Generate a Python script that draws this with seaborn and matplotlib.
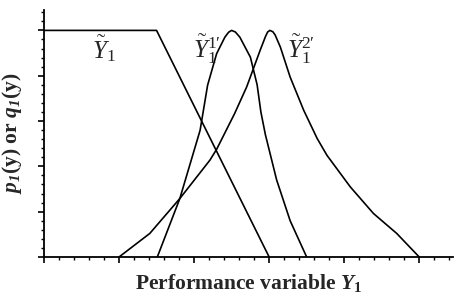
import matplotlib
matplotlib.use("Agg")
import matplotlib.pyplot as plt
import pandas as pd
import seaborn as sns
from matplotlib.ticker import MultipleLocator, NullFormatter

# trapezoid Y1
trap_x = [0.0, 1.5, 3.0]
trap_y = [1.0, 1.0, 0.0]

# Y1^1'
y1_x = [1.51, 1.81, 2.08, 2.18, 2.30, 2.41, 2.46, 2.50, 2.55, 2.61, 2.75, 2.84, 2.89, 2.95, 3.10, 3.28, 3.50]
y1_y = [0.0, 0.258, 0.559, 0.758, 0.897, 0.970, 0.992, 1.0, 0.993, 0.970, 0.882, 0.760, 0.640, 0.54, 0.34, 0.16, 0.0]

# Y1^2'
y2_x = [1.0, 1.41, 1.81, 2.21, 2.30, 2.54, 2.70, 2.78, 2.88, 2.95, 2.98, 3.01, 3.05, 3.08, 3.15, 3.28,
        3.46, 3.64, 3.77, 4.08, 4.39, 4.70, 5.0]
y2_y = [0.0, 0.104, 0.258, 0.427, 0.475, 0.633, 0.75, 0.822, 0.912, 0.972, 0.993, 1.0, 0.994, 0.98, 0.926, 0.794,
        0.648, 0.523, 0.449, 0.31, 0.192, 0.104, 0.0]

curve_labels = [r"$\tilde{Y}_1$", r"$\tilde{Y}_1^{1\prime}$", r"$\tilde{Y}_1^{2\prime}$"]
label_x = [0.64, 1.99, 3.235]
label_y = [0.877, 0.88, 0.88]

sns.set_style("ticks")
plt.rcParams["font.family"] = ["Liberation Serif", "DejaVu Serif"]
plt.rcParams["mathtext.fontset"] = "custom"
plt.rcParams["mathtext.rm"] = "Liberation Serif"
plt.rcParams["mathtext.it"] = "Liberation Serif:italic"
plt.rcParams["mathtext.bf"] = "Liberation Serif:bold"
plt.rcParams["mathtext.bfit"] = "Liberation Serif:italic:bold"

fig = plt.figure(figsize=(4.54, 2.97), dpi=100)
ax = fig.add_axes([0.0969, 0.1347, 0.9009, 0.8316])

for xs, ys in [(trap_x, trap_y), (y1_x, y1_y), (y2_x, y2_y)]:
    df = pd.DataFrame({"x": xs, "y": ys})
    sns.lineplot(data=df, x="x", y="y", sort=False, estimator=None, color="black", linewidth=1.2, ax=ax)

for lab, lx, ly in zip(curve_labels, label_x, label_y):
    ax.text(lx, ly, lab, fontsize=18, ha="left", va="baseline")

ax.set_xlim(0, 5.45)
ax.set_ylim(0, 1.09)
ax.xaxis.set_major_locator(MultipleLocator(1.0))
ax.xaxis.set_minor_locator(MultipleLocator(0.2))
ax.yaxis.set_major_locator(MultipleLocator(0.2))
ax.yaxis.set_minor_locator(MultipleLocator(0.04))
ax.xaxis.set_major_formatter(NullFormatter())
ax.yaxis.set_major_formatter(NullFormatter())
ax.tick_params(which="major", direction="out", length=4, width=1.2, color="black")
ax.tick_params(which="minor", direction="out", length=2.5, width=1.0, color="black")
sns.despine(ax=ax)
for s in ["left", "bottom"]:
    ax.spines[s].set_linewidth(1.3)
    ax.spines[s].set_color("black")

ax.set_xlabel(r"Performance variable $\mathbfit{Y}_\mathbf{1}$", fontsize=15.5, fontweight="bold", labelpad=3)
ax.set_ylabel(r"$\mathbfit{p}_\mathbfit{1}$(y) or $\mathbfit{q}_\mathbfit{1}$(y)", fontsize=15.5, fontweight="bold", labelpad=7)

fig.savefig("out.png", dpi=100)
